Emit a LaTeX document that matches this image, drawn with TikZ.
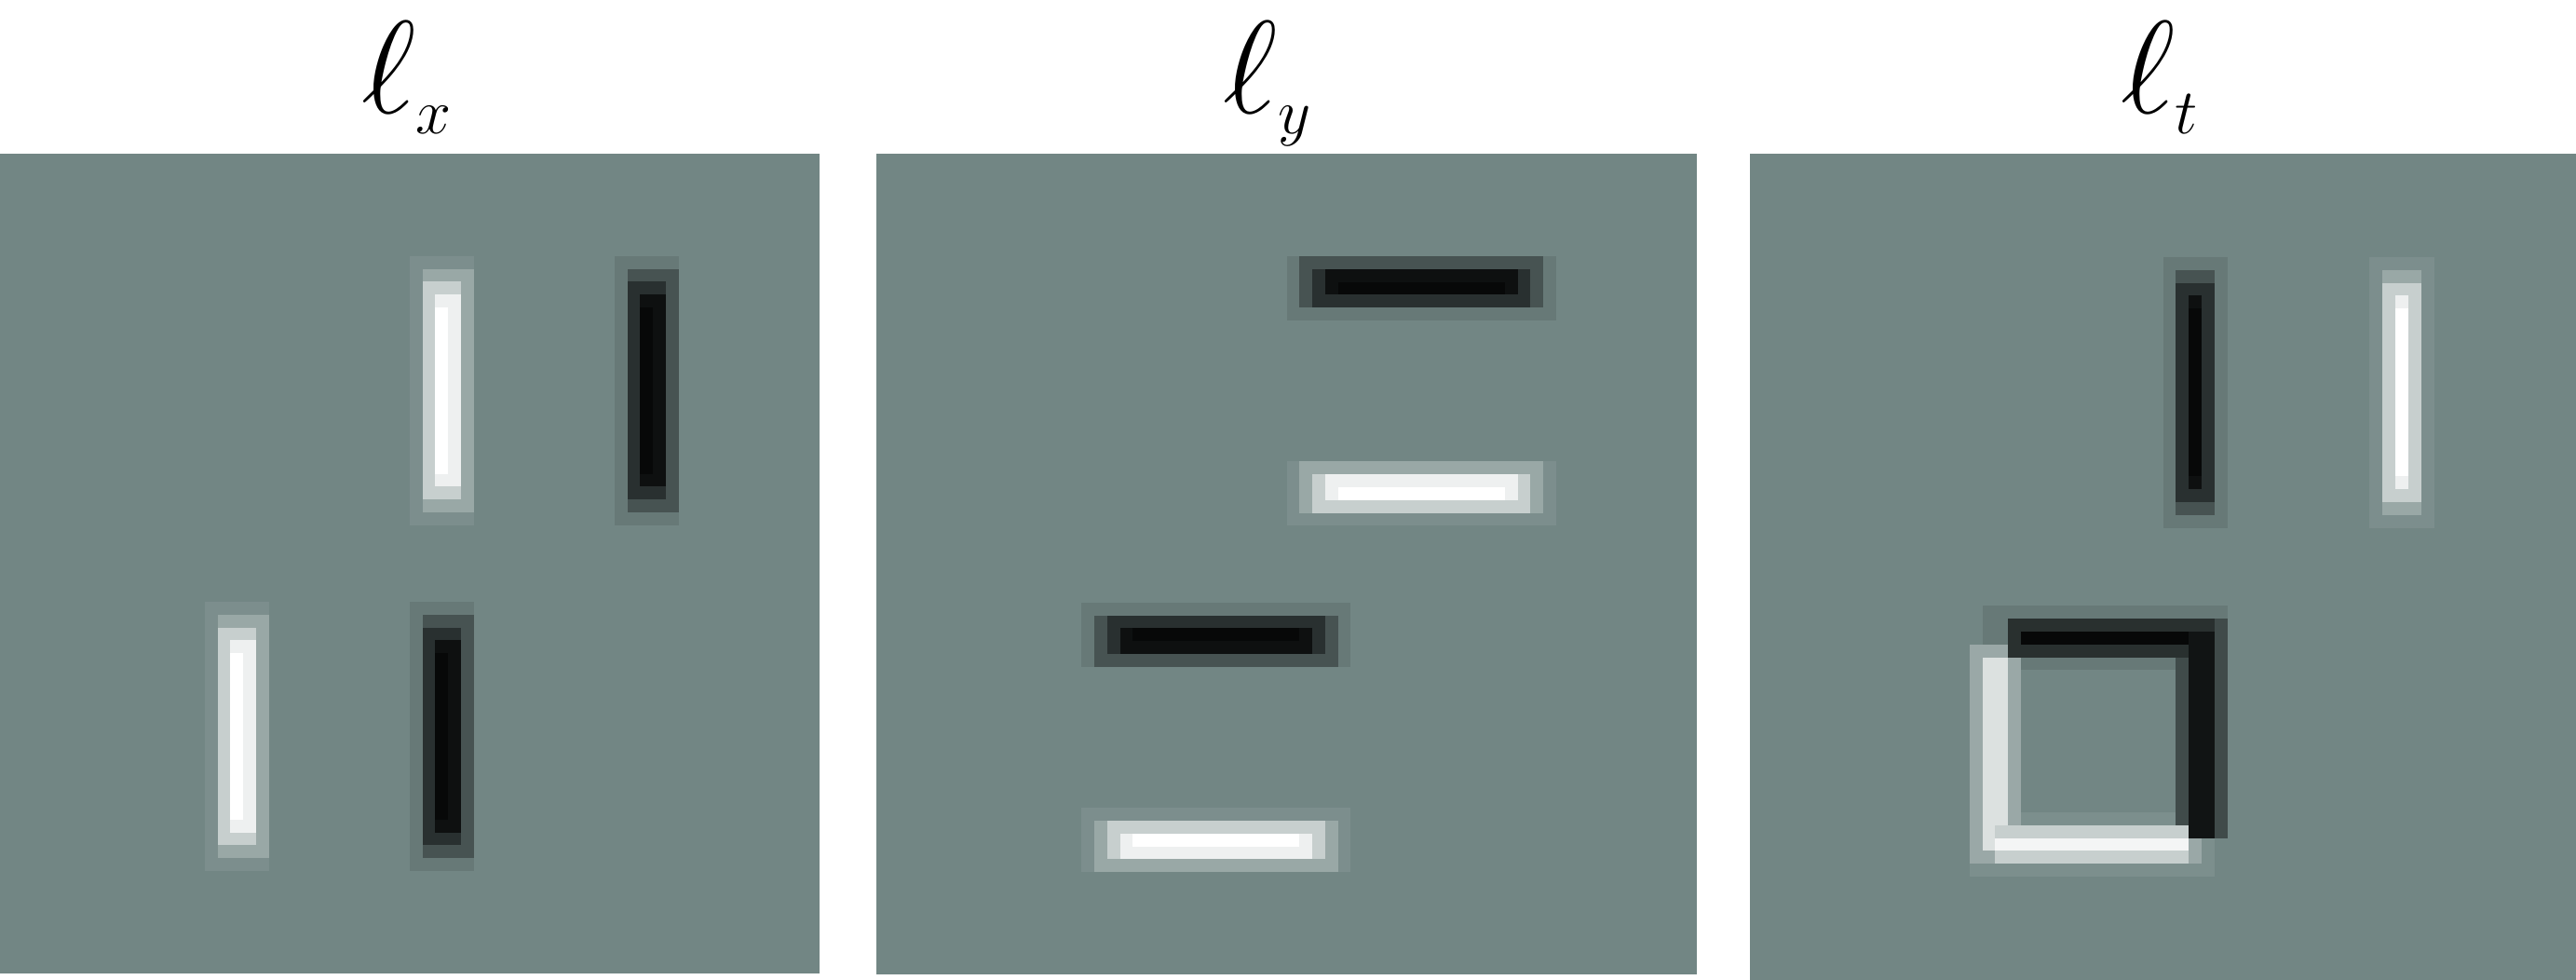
\documentclass[tikz,border=0pt]{standalone}
\usepackage{amsmath,amssymb}
\usepackage{graphicx}
\usepackage{tikz}

\definecolor{field}{RGB}{114,134,132}
\colorlet{W1}{white!7!field}
\colorlet{W2}{white!28!field}
\colorlet{W3}{white!60!field}
\colorlet{W4}{white!88!field}
\colorlet{W5}{white}
\colorlet{D1}{black!10!field}
\colorlet{D2}{black!38!field}
\colorlet{D3}{black!64!field}
\colorlet{D4}{black!88!field}
\colorlet{D5}{black!94!field}
\colorlet{W75}{white!75!field}
\colorlet{W92}{white!92!field}
\colorlet{D44}{black!44!field}
\colorlet{D85}{black!85!field}

\begin{document}
\begin{tikzpicture}[headline/.style={anchor=base,inner sep=0pt,font=\Huge}]

% Page frame
\useasboundingbox (0,0) rectangle (27.66,10.52);

% Title letter with a small subscript
\def\deriv#1{\scalebox{1.62}{$\ell_{\hbox{\fontsize{12}{12}\selectfont$#1$}}$}}

% Blurred stroke in cells: first column, first row, colour set, layer list
\def\vstreak#1#2#3#4{\foreach \lev/\p/\q in #4
  {\fill[fill=#3\lev] ({#1+\p},{#2+\lev-1}) rectangle ({#1+\q+1},{#2+22-\lev});}}
\def\hstreak#1#2#3#4{\foreach \lev/\p/\q in #4
  {\fill[fill=#3\lev] ({#1+\lev-1},{#2+\p}) rectangle ({#1+22-\lev},{#2+\q+1});}}

% Layers across a stroke (level/from/to)
\def\profA{1/0/4,2/1/4,3/1/3,4/2/3,5/2/2}
\def\profB{1/0/4,2/0/3,3/1/3,4/1/2,5/2/2}
\def\profC{1/0/4,2/1/3,3/1/3,4/2/2,5/2/2}

% Derivative along x
\begin{scope}[shift={(0,8.87)},x=0.1375cm,y=-0.1375cm]
  \fill[field] (0,0) rectangle (64,64);
  \vstreak{32}{8}{W}{\profA}
  \vstreak{48}{8}{D}{\profA}
  \vstreak{16}{35}{W}{\profA}
  \vstreak{32}{35}{D}{\profA}
\end{scope}
\node[headline] (lx) at (4.38,9.30) {\deriv{x}};

% Derivative along y
\begin{scope}[shift={(9.41,8.87)},x=0.1377cm,y=-0.1377cm]
  \fill[field] (0,0) rectangle (64,64);
  \hstreak{32}{8}{D}{\profB}
  \hstreak{32}{24}{W}{\profB}
  \hstreak{16}{35}{D}{\profA}
  \hstreak{16}{51}{W}{\profA}
\end{scope}
\node[headline] (ly) at (13.62,9.30) {\deriv{y}};

% Derivative along t
\begin{scope}[shift={(18.79,8.87)},x=0.1386cm,y=-0.1386cm]
  \fill[field] (0,0) rectangle (64,64);
  \vstreak{32}{8}{D}{\profC}
  \vstreak{48}{8}{W}{\profC}
  % square outline
  \fill[W1] (17,51) rectangle (36,56);
  \fill[D1] (18,35) rectangle (37,40);
  \fill[W2] (17,38) rectangle (21,55);
  \fill[W75] (18,39) rectangle (20,54);
  \fill[D3] (20,36) rectangle (36,39);
  \fill[D5] (21,37) rectangle (35,38);
  \fill[D44] (33,39) rectangle (37,53);
  \fill[D44] (36,36) rectangle (37,39);
  \fill[D85] (34,37) rectangle (36,53);
  \fill[W3] (19,52) rectangle (34,55);
  \fill[W2] (34,53) rectangle (35,55);
  \fill[W92] (19,53) rectangle (34,54);
\end{scope}
\node[headline] (lt) at (23.20,9.30) {\deriv{t}};

\end{tikzpicture}
\end{document}
